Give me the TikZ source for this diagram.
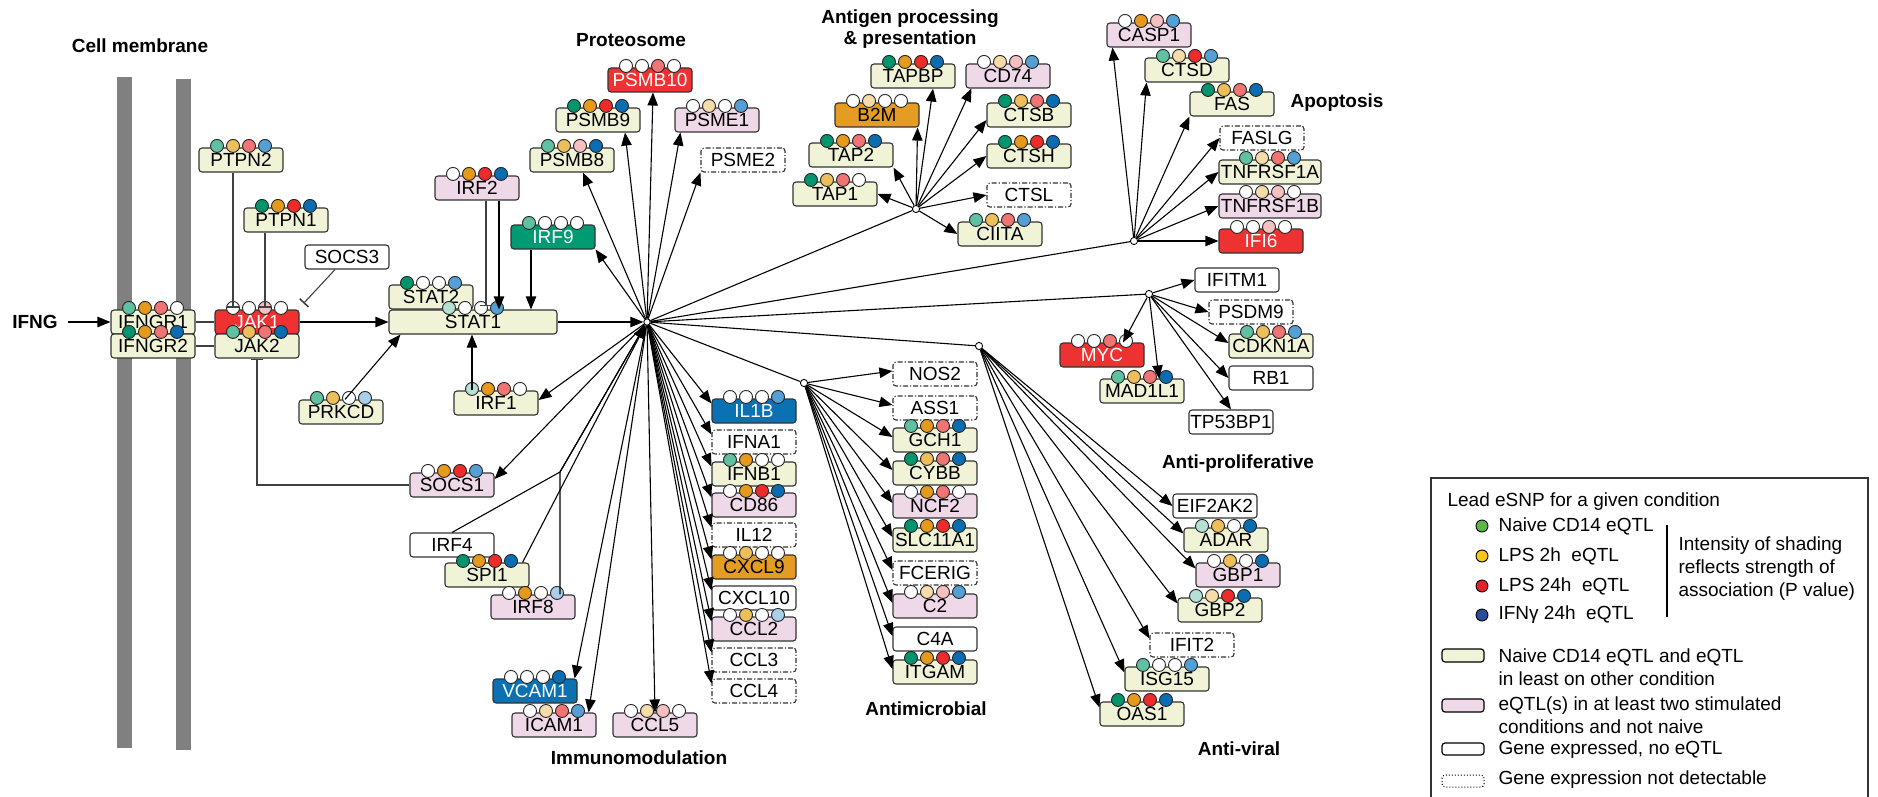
\documentclass[tikz,border=0pt]{standalone}
\usepackage{fontspec}
\setmainfont{Liberation Sans}
\usetikzlibrary{calc,arrows.meta}

\newcommand{\genefont}{\fontsize{9.5}{10.5}\selectfont}

\definecolor{naivefill}{HTML}{F0F3D6}
\definecolor{stimfill}{HTML}{EFD8E8}
\definecolor{hotred}{HTML}{EE3131}
\definecolor{amber}{HTML}{E49C22}
\definecolor{jade}{HTML}{009B72}
\definecolor{azure}{HTML}{0A72B2}
\definecolor{membrane}{HTML}{808080}
% SNP dot shades (0 = no eQTL, 3 = strongest)
\colorlet{g0}{white}\colorlet{o0}{white}\colorlet{r0}{white}\colorlet{b0}{white}
\definecolor{g1}{HTML}{B5E0D6}\definecolor{g2}{HTML}{5FC0A2}\definecolor{g3}{HTML}{00956C}
\definecolor{o1}{HTML}{F6DCA8}\definecolor{o2}{HTML}{EDBF5A}\definecolor{o3}{HTML}{E59A1C}
\definecolor{r1}{HTML}{F6C0C0}\definecolor{r2}{HTML}{F07474}\definecolor{r3}{HTML}{EE2B2B}
\definecolor{b1}{HTML}{A9CFEA}\definecolor{b2}{HTML}{54A0D4}\definecolor{b3}{HTML}{0B6DB1}
% legend dots
\definecolor{lgreen}{HTML}{5CB746}
\definecolor{lyellow}{HTML}{F8C51C}
\definecolor{lred}{HTML}{E42127}
\definecolor{lblue}{HTML}{2B4C9B}

\tikzset{
  gene/.style={draw=black!80,rounded corners=1.5pt,minimum width=42pt,minimum height=12pt,
    inner sep=0pt,text height=6.9pt,text depth=0pt,font=\genefont},
  naive/.style={gene,fill=naivefill},
  stim/.style={gene,fill=stimfill},
  expr/.style={gene,fill=white},
  nodet/.style={gene,fill=white,dash pattern=on 2.5pt off 1pt on 0.6pt off 1pt},
  hot/.style={gene,fill=hotred,text=white},
  amberbox/.style={gene,fill=amber},
  jadebox/.style={gene,fill=jade,text=white},
  azurebox/.style={gene,fill=azure,text=white},
  title/.style={font=\genefont\bfseries,inner sep=0pt},
  legtext/.style={font=\genefont,inner sep=0pt,align=left},
  hubdot/.style={circle,draw,fill=white,inner sep=0pt,minimum size=3.2pt,line width=0.45pt},
  subdot/.style={circle,draw,fill=white,inner sep=0pt,minimum size=3.6pt,line width=0.45pt},
  link/.style={draw=black!75},
  inh/.style={-{Bar[width=6pt,line width=0.8pt]},draw=black!75}
}

% four SNP dots on top of a gene box
\newcommand{\snp}[5]{%
  \foreach \dotcol [count=\k] in {g#2,o#3,r#4,b#5}
    \draw[line width=0.45pt,draw=black!85,fill=\dotcol] ($(#1.north)+({(\k-2.5)*16},-1.5)$) circle[radius=3.25pt];}

\begin{document}
\begin{tikzpicture}[x=0.5pt,y=-0.5pt,line width=0.55pt,>={Triangle[length=6.5pt,width=5.2pt]}]
  \useasboundingbox (0,0) rectangle (1878,797);

  % cell membrane
  \fill[membrane] (117,77) rectangle (132,748);
  \fill[membrane] (176,79) rectangle (191,750);
  \node[title] (cellmem) at (140,46) {Cell membrane};
  \node[title] (ifng) at (35,322) {IFNG};

  % receptor side
  \node[naive] (ptpn2) at (241,160) {PTPN2}; \snp{ptpn2}{2}{2}{2}{2}
  \node[naive] (ptpn1) at (286,220) {PTPN1}; \snp{ptpn1}{3}{3}{3}{3}
  \node[expr] (socs3) at (347,257) {SOCS3};
  \node[naive] (ifngr1) at (153,322) {IFNGR1}; \snp{ifngr1}{2}{3}{2}{0}
  \node[naive] (ifngr2) at (153,346) {IFNGR2}; \snp{ifngr2}{3}{3}{2}{3}
  \node[hot] (jak1) at (257,322) {JAK1}; \snp{jak1}{0}{0}{1}{0}
  \node[naive] (jak2) at (257,346) {JAK2}; \snp{jak2}{2}{2}{2}{3}
  \node[naive] (stat2) at (431,297) {STAT2}; \snp{stat2}{3}{0}{0}{2}
  \node[naive,minimum width=84pt] (stat1) at (473,322) {STAT1}; \snp{stat1}{1}{0}{0}{2}
  \node[stim] (irf2) at (477,188) {IRF2}; \snp{irf2}{0}{3}{3}{3}
  \node[jadebox] (irf9) at (553,237) {IRF9}; \snp{irf9}{2}{0}{0}{0}
  \node[naive] (prkcd) at (341,412) {PRKCD}; \snp{prkcd}{2}{2}{0}{1}
  \node[naive] (irf1) at (496,403) {IRF1}; \snp{irf1}{1}{3}{2}{0}
  \node[stim] (socs1) at (452,485) {SOCS1}; \snp{socs1}{0}{3}{3}{2}
  \node[expr] (irf4) at (452,545) {IRF4};
  \node[naive] (spi1) at (487,575) {SPI1}; \snp{spi1}{3}{3}{3}{3}
  \node[stim] (irf8) at (533,607) {IRF8}; \snp{irf8}{0}{3}{0}{1}
  \node[azurebox] (vcam1) at (535,691) {VCAM1}; \snp{vcam1}{0}{0}{0}{3}
  \node[stim] (icam1) at (554,725) {ICAM1}; \snp{icam1}{0}{1}{2}{2}
  \node[stim] (ccl5) at (655,725) {CCL5}; \snp{ccl5}{0}{1}{1}{0}

  % proteosome
  \node[naive] (psmb8) at (572,160) {PSMB8}; \snp{psmb8}{2}{2}{1}{3}
  \node[naive] (psmb9) at (598,120) {PSMB9}; \snp{psmb9}{3}{3}{3}{3}
  \node[hot] (psmb10) at (650,80) {PSMB10}; \snp{psmb10}{0}{0}{2}{0}
  \node[stim] (psme1) at (717,120) {PSME1}; \snp{psme1}{0}{1}{0}{2}
  \node[nodet] (psme2) at (743,160) {PSME2};

  % immunomodulation column
  \node[azurebox] (il1b) at (754,411) {IL1B}; \snp{il1b}{0}{0}{0}{2}
  \node[nodet] (ifna1) at (754,442) {IFNA1};
  \node[naive] (ifnb1) at (754,474) {IFNB1}; \snp{ifnb1}{2}{3}{0}{0}
  \node[stim] (cd86) at (754,505) {CD86}; \snp{cd86}{0}{3}{3}{3}
  \node[nodet] (il12) at (754,535) {IL12};
  \node[amberbox] (cxcl9) at (754,567) {CXCL9}; \snp{cxcl9}{0}{2}{0}{0}
  \node[expr] (cxcl10) at (754,598) {CXCL10};
  \node[stim] (ccl2) at (754,629) {CCL2}; \snp{ccl2}{0}{2}{0}{1}
  \node[nodet] (ccl3) at (754,660) {CCL3};
  \node[nodet] (ccl4) at (754,691) {CCL4};

  % antigen processing
  \node[naive] (tapbp) at (913,76) {TAPBP}; \snp{tapbp}{3}{3}{3}{3}
  \node[amberbox] (b2m) at (877,115) {B2M}; \snp{b2m}{0}{1}{0}{0}
  \node[naive] (tap2) at (851,155) {TAP2}; \snp{tap2}{3}{3}{2}{3}
  \node[naive] (tap1) at (835,194) {TAP1}; \snp{tap1}{3}{2}{2}{0}
  \node[stim] (cd74) at (1008,76) {CD74}; \snp{cd74}{0}{1}{1}{2}
  \node[naive] (ctsb) at (1029,115) {CTSB}; \snp{ctsb}{3}{2}{2}{3}
  \node[naive] (ctsh) at (1029,156) {CTSH}; \snp{ctsh}{3}{3}{3}{3}
  \node[nodet] (ctsl) at (1029,195) {CTSL};
  \node[naive] (ciita) at (1000,234) {CIITA}; \snp{ciita}{2}{2}{2}{2}

  % apoptosis
  \node[stim] (casp1) at (1149,35) {CASP1}; \snp{casp1}{0}{3}{1}{2}
  \node[naive] (ctsd) at (1187,70) {CTSD}; \snp{ctsd}{2}{1}{3}{2}
  \node[naive] (fas) at (1232,104) {FAS}; \snp{fas}{3}{2}{2}{3}
  \node[nodet] (faslg) at (1262,138) {FASLG};
  \node[naive,minimum width=51pt] (tnfrsf1a) at (1270,172) {TNFRSF1A}; \snp{tnfrsf1a}{2}{1}{2}{2}
  \node[stim,minimum width=51pt] (tnfrsf1b) at (1270,206) {TNFRSF1B}; \snp{tnfrsf1b}{0}{1}{1}{0}
  \node[hot] (ifi6) at (1261,241) {IFI6}; \snp{ifi6}{0}{0}{1}{0}

  % anti-proliferative
  \node[expr] (ifitm1) at (1237,280) {IFITM1};
  \node[nodet] (psdm9) at (1251,312) {PSDM9};
  \node[naive] (cdkn1a) at (1271,346) {CDKN1A}; \snp{cdkn1a}{2}{2}{2}{2}
  \node[expr] (rb1) at (1271,378) {RB1};
  \node[expr] (tp53bp1) at (1231,422) {TP53BP1};
  \node[hot] (myc) at (1102,355) {MYC}; \snp{myc}{0}{0}{2}{0}
  \node[naive] (mad1l1) at (1142,391) {MAD1L1}; \snp{mad1l1}{2}{2}{2}{3}

  % anti-viral
  \node[expr] (eif2ak2) at (1215,506) {EIF2AK2};
  \node[naive] (adar) at (1226,540) {ADAR}; \snp{adar}{1}{2}{0}{3}
  \node[stim] (gbp1) at (1238,575) {GBP1}; \snp{gbp1}{0}{2}{0}{3}
  \node[naive] (gbp2) at (1220,610) {GBP2}; \snp{gbp2}{1}{1}{3}{3}
  \node[nodet] (ifit2) at (1192,645) {IFIT2};
  \node[naive] (isg15) at (1167,679) {ISG15}; \snp{isg15}{2}{0}{0}{2}
  \node[naive] (oas1) at (1142,714) {OAS1}; \snp{oas1}{3}{3}{3}{3}

  % antimicrobial
  \node[nodet] (nos2) at (935,374) {NOS2};
  \node[nodet] (ass1) at (935,408) {ASS1};
  \node[naive] (gch1) at (935,440) {GCH1}; \snp{gch1}{2}{3}{2}{3}
  \node[naive] (cybb) at (935,473) {CYBB}; \snp{cybb}{3}{2}{2}{3}
  \node[stim] (ncf2) at (935,506) {NCF2}; \snp{ncf2}{0}{3}{2}{0}
  \node[naive] (slc11a1) at (935,540) {SLC11A1}; \snp{slc11a1}{3}{3}{3}{3}
  \node[nodet] (fcerig) at (935,573) {FCERIG};
  \node[stim] (c2) at (935,606) {C2}; \snp{c2}{0}{1}{1}{2}
  \node[expr] (c4a) at (935,639) {C4A};
  \node[naive] (itgam) at (935,672) {ITGAM}; \snp{itgam}{3}{3}{3}{3}

  % group labels
  \node[title] (proteo) at (631,40) {Proteosome};
  \node[title,align=center] (antigen) at (910,29) {Antigen processing\\\& presentation};
  \node[title] (apopt) at (1337,103) {Apoptosis};
  \node[title] (antiprol) at (1238,464) {Anti-proliferative};
  \node[title] (immuno) at (639,758) {Immunomodulation};
  \node[title] (antimic) at (926,709) {Antimicrobial};
  \node[title] (antivir) at (1239,749) {Anti-viral};

  % hubs
  \node[hubdot] (hub) at (647,322) {};
  \node[subdot] (subA) at (916,209) {};
  \node[subdot] (subB) at (1134,241) {};
  \node[subdot] (subC) at (1149,294) {};
  \node[subdot] (subD) at (979,346) {};
  \node[subdot] (subE) at (804,383) {};

  % signalling into STAT1
  \draw[->] ($(ifng.east)+(10,0)$) -- (ifngr1.west);
  \draw[link] (ifngr1.east) -- (jak1.west);
  \draw[link] (ifngr2.east) -- (jak2.west);
  \coordinate (j1a) at ($(jak1.north)+(-24,-1.5)$);
  \coordinate (j1c) at ($(jak1.north)+(8,-1.5)$);
  \draw[inh] (ptpn2.south -| j1a) -- (j1a);
  \draw[inh] (ptpn1.south -| j1c) -- (j1c);
  \draw[inh] ($(socs3.south)+(-12,0)$) -- ($(jak1.north east)+(4,-6)$);
  \draw[inh] (socs1.west) -| (jak2.south);
  \draw[->] (jak1.east) -- (stat1.west);
  \draw[->] ($(prkcd.north)+(4,0)$) -- ($(stat1.south west)+(12,0)$);
  \coordinate (i1a) at ($(irf1.north)+(-24,0)$);
  \draw[->] (i1a) -- (i1a |- stat1.south);
  \coordinate (i2a) at ($(irf2.south)+(9,0)$);
  \coordinate (i2b) at ($(irf2.south)+(22,0)$);
  \draw[inh] (i2a) -- ($(i2a |- stat1.north)+(0,-3)$);
  \draw[->] (i2b) -- (i2b |- stat1.north);
  \coordinate (i9a) at ($(irf9.south)+(-22,0)$);
  \draw[->] (i9a) -- (i9a |- stat1.north);
  \draw[->] (stat1.east) -- (hub);
  \coordinate (tfjoin) at (560,472);
  \draw[->] (irf4.north) -- (tfjoin) -- (hub);
  \draw[->] (irf8.north -| tfjoin) -- (tfjoin) -- (hub);
  \draw[->] ($(spi1.north east)+(-7,0)$) -- (hub);

  % hub targets
  \draw[->] (hub) -- (irf9.south east);
  \draw[->] (hub) -- ($(irf1.east)+(0,-3)$);
  \draw[->] (hub) -- ($(socs1.east)+(0,-6)$);
  \draw[->] (hub) -- ($(psmb8.south)+(11,0)$);
  \draw[->] (hub) -- ($(psmb9.south)+(27,0)$);
  \draw[->] (hub) -- ($(psmb10.south)+(3,0)$);
  \draw[->] (hub) -- ($(psme1.south west)+(6,0)$);
  \draw[->] (hub) -- (psme2.south west);
  \draw[->] (hub) -- ($(vcam1.north east)+(-3,0)$);
  \draw[->] (hub) -- ($(icam1.north east)+(-8,0)$);
  \draw[->] (hub) -- (ccl5.north);
  \foreach \t in {il1b,ifna1,ifnb1,cd86,il12,cxcl9,cxcl10,ccl2,ccl3,ccl4}
    \draw[->] (hub) -- ($(\t.north west)+(0,5)$);
  \foreach \s in {subA,subB,subC,subD,subE}
    \draw (hub) -- (\s);

  % antigen processing
  \draw[->] (subA) -- (tap1.east);
  \draw[->] (subA) -- (tap2.south east);
  \draw[->] (subA) -- ($(b2m.south east)+(-2,0)$);
  \draw[->] (subA) -- ($(tapbp.south)+(20,0)$);
  \draw[->] (subA) -- ($(cd74.south west)+(6,0)$);
  \draw[->] (subA) -- ($(ctsb.west)+(0,5)$);
  \draw[->] (subA) -- (ctsh.west);
  \draw[->] (subA) -- (ctsl.west);
  \draw[->] (subA) -- (ciita.west);

  % apoptosis
  \draw[->] (subB) -- ($(casp1.south west)+(6,0)$);
  \draw[->] (subB) -- ($(ctsd.south west)+(2,0)$);
  \draw[->] (subB) -- (fas.south west);
  \foreach \t in {faslg,tnfrsf1a,tnfrsf1b,ifi6}
    \draw[->] (subB) -- (\t.west);

  % anti-proliferative
  \draw[->] (subC) -- (ifitm1.west);
  \draw[->] (subC) -- (psdm9.west);
  \draw[->] (subC) -- ($(cdkn1a.west)+(0,-3)$);
  \draw[->] (subC) -- (rb1.west);
  \draw[->] (subC) -- (tp53bp1.north);
  \draw[->] (subC) -- ($(mad1l1.north)+(17,0)$);
  \draw[->] (subC) -- ($(myc.north)+(21,0)$);

  % anti-viral
  \draw[->] (subD) -- (eif2ak2.west);
  \foreach \t in {adar,gbp1,gbp2,ifit2,isg15,oas1}
    \draw[->] (subD) -- ($(\t.north west)+(0,6)$);

  % antimicrobial
  \foreach \t in {nos2,ass1,gch1,cybb,ncf2,slc11a1,fcerig,c2,c4a,itgam}
    \draw[->] (subE) -- ($(\t.west)+(0,-3)$);

  % legend
  \draw[black!80,line width=0.6pt] (1431,800) |- (1868,478) -- (1868,800);
  \node[legtext,anchor=west] (leadsnp) at (1447,502) {Lead eSNP for a given condition};
  \draw[line width=0.45pt,fill=lgreen] (1482,526) circle[radius=3pt];
  \draw[line width=0.45pt,fill=lyellow] (1482,556) circle[radius=3pt];
  \draw[line width=0.45pt,fill=lred] (1482,586) circle[radius=3pt];
  \draw[line width=0.45pt,fill=lblue] (1482,615) circle[radius=3pt];
  \node[legtext,anchor=west] (lnaive) at (1498,526) {Naive CD14 eQTL};
  \node[legtext,anchor=west] (llps2) at (1498,556) {LPS 2h\ \ eQTL};
  \node[legtext,anchor=west] (llps24) at (1498,586) {LPS 24h\ \ eQTL};
  \node[legtext,anchor=west] (lifng) at (1498,615) {IFNγ 24h\ \ eQTL};
  \draw (1667,525) -- (1667,617);
  \node[legtext,anchor=west,font=\fontsize{9.5}{11.5}\selectfont] (lshade) at (1678,569)
    {Intensity of shading\\reflects strength of\\association (P value)};
  \draw[line width=0.6pt,rounded corners=1.5pt,fill=naivefill] (1442,649) rectangle (1484,662);
  \draw[line width=0.6pt,rounded corners=1.5pt,fill=stimfill] (1442,699) rectangle (1484,712);
  \draw[line width=0.6pt,rounded corners=1.5pt,fill=white] (1442,743) rectangle (1484,755);
  \draw[line width=0.5pt,rounded corners=1.5pt,densely dotted] (1442,775) rectangle (1484,787);
  \node[legtext,anchor=west,font=\fontsize{9.5}{11.5}\selectfont] (lbox1) at (1498,667)
    {Naive CD14 eQTL and eQTL\\in least on other condition};
  \node[legtext,anchor=west,font=\fontsize{9.5}{11.5}\selectfont] (lbox2) at (1498,715)
    {eQTL(s) in at least two stimulated\\conditions and not naive};
  \node[legtext,anchor=west] (lbox3) at (1498,750) {Gene expressed, no eQTL};
  \node[legtext,anchor=west] (lbox4) at (1498,780) {Gene expression not detectable};
\end{tikzpicture}
\end{document}
